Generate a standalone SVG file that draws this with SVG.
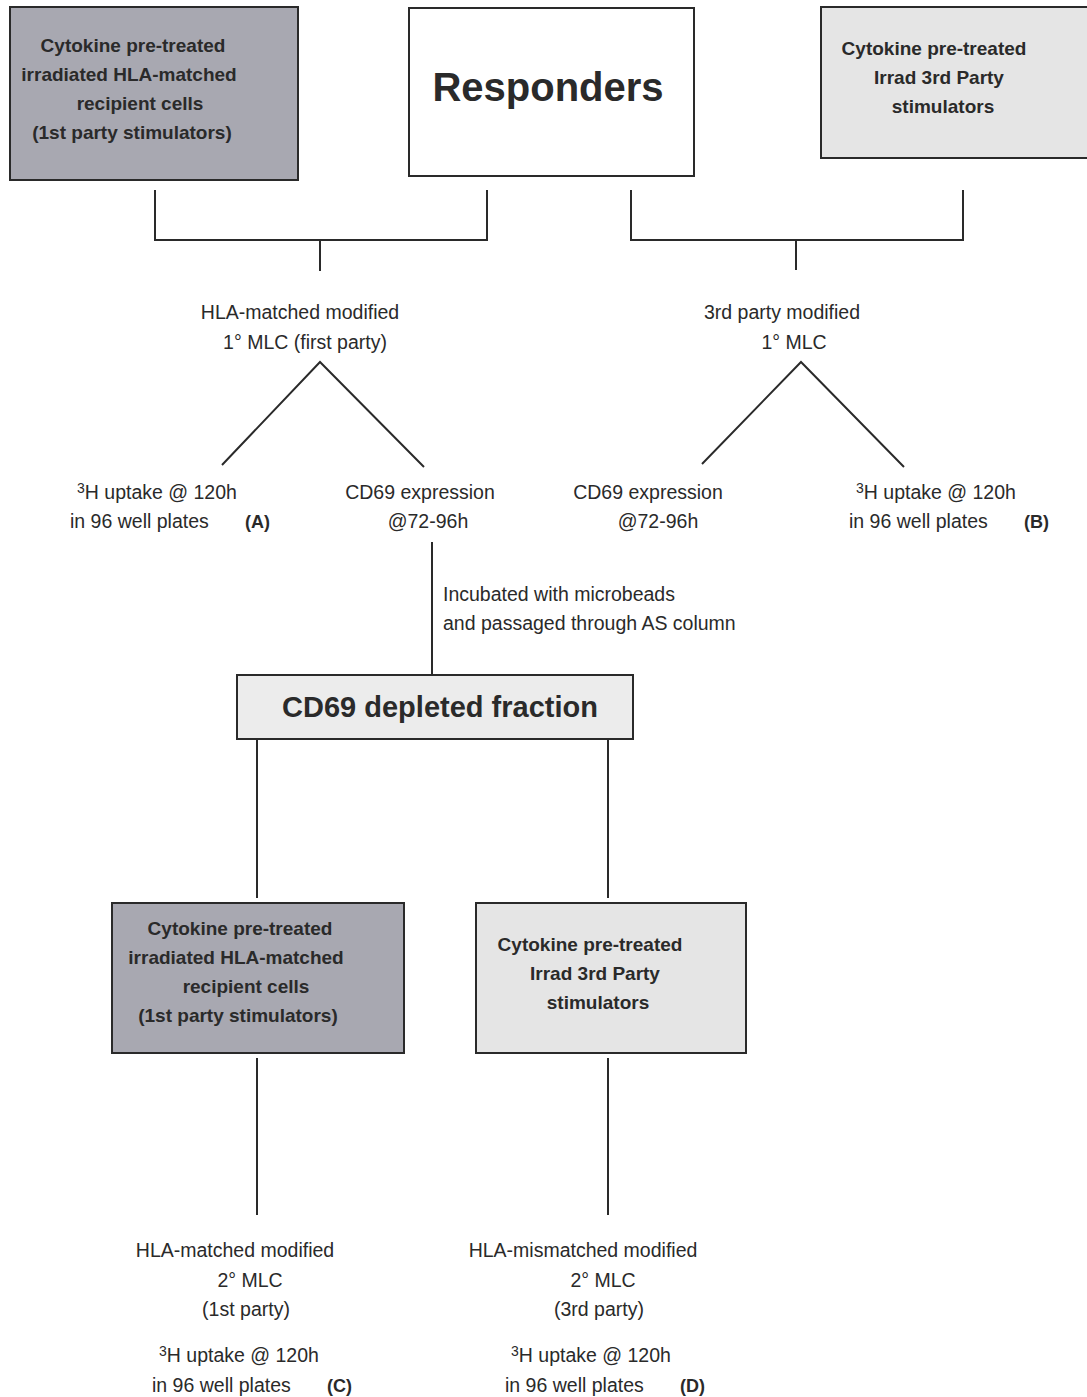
<svg xmlns="http://www.w3.org/2000/svg" width="1087" height="1397" viewBox="0 0 1087 1397">
<style>
.dark{fill:#a8a8b1;stroke:#2a2a2a;stroke-width:2}
.light{fill:#e5e5e5;stroke:#2a2a2a;stroke-width:2}
.white{fill:#ffffff;stroke:#2a2a2a;stroke-width:2}
.b{font-family:"Liberation Sans",Arial,sans-serif;font-weight:bold;font-size:19px;fill:#2a2a2a;text-anchor:middle}
.t{font-family:"Liberation Sans",Arial,sans-serif;font-size:19.5px;fill:#2a2a2a}
.m{text-anchor:middle}
.lab{font-family:"Liberation Sans",Arial,sans-serif;font-weight:bold;font-size:18px;fill:#2a2a2a}
.c{stroke:#2a2a2a;stroke-width:2;fill:none}
</style>
<rect width="1087" height="1397" fill="#ffffff"/>
<g id="connectors" class="c">
<polyline points="155,190 155,240 487,240 487,190"/>
<line x1="320" y1="240" x2="320" y2="271"/>
<polyline points="631,190 631,240 963,240 963,190"/>
<line x1="796" y1="240" x2="796" y2="270"/>
<polyline points="222,465 320,362 424,467"/>
<polyline points="702,464 801,362 904,467"/>
<line x1="432" y1="542" x2="432" y2="675"/>
<line x1="257" y1="740" x2="257" y2="898"/>
<line x1="608" y1="740" x2="608" y2="898"/>
<line x1="257" y1="1058" x2="257" y2="1215"/>
<line x1="608" y1="1058" x2="608" y2="1215"/>
</g>
<g id="node-first-party-top">
<rect class="dark" x="10" y="7" width="288" height="173"/>
<text class="b" x="133" y="52">Cytokine pre-treated</text>
<text class="b" x="129" y="81">irradiated HLA-matched</text>
<text class="b" x="140" y="110">recipient cells</text>
<text class="b" x="132" y="139">(1st party stimulators)</text>
</g>
<g id="node-responders">
<rect class="white" x="409" y="8" width="285" height="168"/>
<text class="b" x="548" y="101" style="font-size:40px">Responders</text>
</g>
<g id="node-third-party-top">
<rect class="light" x="821" y="7" width="270" height="151"/>
<text class="b" x="934" y="55">Cytokine pre-treated</text>
<text class="b" x="939" y="84">Irrad 3rd Party</text>
<text class="b" x="943" y="113">stimulators</text>
</g>
<g id="node-mlc1-first">
<text class="t m" x="300" y="319">HLA-matched modified</text>
<text class="t m" x="305" y="349">1° MLC (first party)</text>
</g>
<g id="node-mlc1-third">
<text class="t m" x="782" y="319">3rd party modified</text>
<text class="t m" x="794" y="349">1° MLC</text>
</g>
<g id="node-A">
<text class="t" x="77" y="499"><tspan font-size="14" dy="-6">3</tspan><tspan dy="6">H uptake @ 120h</tspan></text>
<text class="t" x="70" y="528">in 96 well plates</text>
<text class="lab" x="245" y="528">(A)</text>
</g>
<g id="node-cd69-left">
<text class="t m" x="420" y="499">CD69 expression</text>
<text class="t m" x="428" y="528">@72-96h</text>
</g>
<g id="node-cd69-right">
<text class="t m" x="648" y="499">CD69 expression</text>
<text class="t m" x="658" y="528">@72-96h</text>
</g>
<g id="node-B">
<text class="t" x="856" y="499"><tspan font-size="14" dy="-6">3</tspan><tspan dy="6">H uptake @ 120h</tspan></text>
<text class="t" x="849" y="528">in 96 well plates</text>
<text class="lab" x="1024" y="528">(B)</text>
</g>
<g id="label-incubated">
<text class="t" x="443" y="601">Incubated with microbeads</text>
<text class="t" x="443" y="630">and passaged through AS column</text>
</g>
<g id="node-cd69-depleted">
<rect class="light" x="237" y="675" width="396" height="64" style="fill:#ececec"/>
<text class="b" x="440" y="717" style="font-size:29px">CD69 depleted fraction</text>
</g>
<g id="node-first-party-bottom">
<rect class="dark" x="112" y="903" width="292" height="150"/>
<text class="b" x="240" y="935">Cytokine pre-treated</text>
<text class="b" x="236" y="964">irradiated HLA-matched</text>
<text class="b" x="246" y="993">recipient cells</text>
<text class="b" x="238" y="1022">(1st party stimulators)</text>
</g>
<g id="node-third-party-bottom">
<rect class="light" x="476" y="903" width="270" height="150"/>
<text class="b" x="590" y="951">Cytokine pre-treated</text>
<text class="b" x="595" y="980">Irrad 3rd Party</text>
<text class="b" x="598" y="1009">stimulators</text>
</g>
<g id="node-C">
<text class="t m" x="235" y="1257">HLA-matched modified</text>
<text class="t m" x="250" y="1287">2° MLC</text>
<text class="t m" x="246" y="1316">(1st party)</text>
<text class="t" x="159" y="1362"><tspan font-size="14" dy="-6">3</tspan><tspan dy="6">H uptake @ 120h</tspan></text>
<text class="t" x="152" y="1392">in 96 well plates</text>
<text class="lab" x="327" y="1392">(C)</text>
</g>
<g id="node-D">
<text class="t m" x="583" y="1257">HLA-mismatched modified</text>
<text class="t m" x="603" y="1287">2° MLC</text>
<text class="t m" x="599" y="1316">(3rd party)</text>
<text class="t" x="511" y="1362"><tspan font-size="14" dy="-6">3</tspan><tspan dy="6">H uptake @ 120h</tspan></text>
<text class="t" x="505" y="1392">in 96 well plates</text>
<text class="lab" x="680" y="1392">(D)</text>
</g>
</svg>
